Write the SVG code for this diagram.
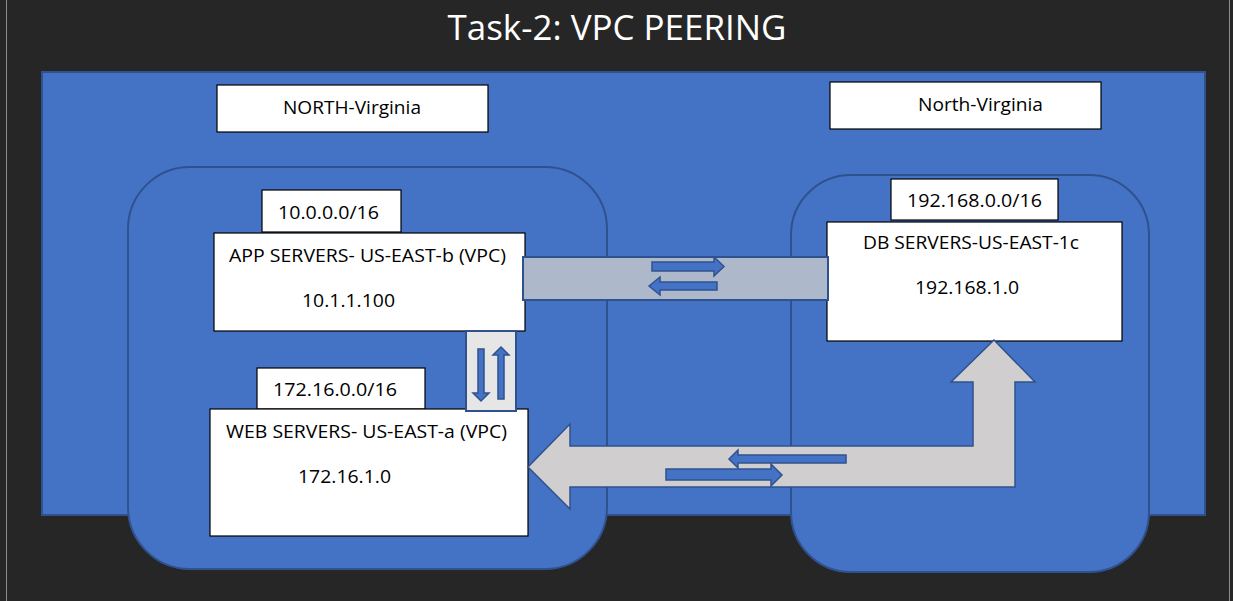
<svg xmlns="http://www.w3.org/2000/svg" width="1233" height="601" viewBox="0 0 1233 601">
<style>
.bx{fill:#fff;stroke:#000;stroke-width:1.2}
.t{font-family:"Open Sans","Noto Sans",sans-serif;font-size:18.5px;fill:#000}
.vpc{fill:#4472C4;stroke:#2F528F;stroke-width:2}
.sa{fill:#4472C4;stroke:#2F528F;stroke-width:1.5;stroke-linejoin:miter}
</style>
<rect x="0" y="0" width="1233" height="601" fill="#262626"/>
<line x1="6.5" y1="0" x2="6.5" y2="601" stroke="#8c8c8c" stroke-width="1"/>
<line x1="1229.5" y1="0" x2="1229.5" y2="601" stroke="#8c8c8c" stroke-width="1"/>
<text x="617" y="40" text-anchor="middle" font-family="'Open Sans','Noto Sans',sans-serif" font-size="35" fill="#fff" textLength="339" lengthAdjust="spacingAndGlyphs">Task-2: VPC PEERING</text>
<g id="region">
<rect x="42" y="72" width="1163" height="443" fill="#4472C4" stroke="#2F528F" stroke-width="2"/>
</g>
<g id="vpc-left"><rect class="vpc" x="128" y="167" width="479" height="402" rx="62" ry="62"/></g>
<g id="vpc-right"><rect class="vpc" x="791" y="175" width="358" height="397" rx="60" ry="60"/></g>
<g id="label-left">
<rect class="bx" x="217" y="85" width="271" height="47"/>
<text class="t" x="283" y="114" textLength="138" lengthAdjust="spacingAndGlyphs">NORTH-Virginia</text>
</g>
<g id="label-right">
<rect class="bx" x="830" y="82" width="271" height="47"/>
<text class="t" x="918" y="111" textLength="125" lengthAdjust="spacingAndGlyphs">North-Virginia</text>
</g>
<g id="cidr-app">
<rect class="bx" x="262" y="190" width="139" height="42"/>
<text class="t" x="278" y="219" textLength="101" lengthAdjust="spacingAndGlyphs">10.0.0.0/16</text>
</g>
<g id="app-servers">
<rect class="bx" x="214" y="233" width="311" height="98"/>
<text class="t" x="229" y="262" textLength="277" lengthAdjust="spacingAndGlyphs">APP SERVERS- US-EAST-b (VPC)</text>
<text class="t" x="302" y="307" textLength="93" lengthAdjust="spacingAndGlyphs">10.1.1.100</text>
</g>
<g id="cidr-db">
<rect class="bx" x="891" y="179" width="167" height="41"/>
<text class="t" x="907" y="207" textLength="135" lengthAdjust="spacingAndGlyphs">192.168.0.0/16</text>
</g>
<g id="db-servers">
<rect class="bx" x="827" y="222" width="295" height="119"/>
<text class="t" x="863" y="249" textLength="216" lengthAdjust="spacingAndGlyphs">DB SERVERS-US-EAST-1c</text>
<text class="t" x="915" y="294" textLength="104" lengthAdjust="spacingAndGlyphs">192.168.1.0</text>
</g>
<g id="cidr-web">
<rect class="bx" x="257" y="368" width="168" height="41"/>
<text class="t" x="273" y="396" textLength="124" lengthAdjust="spacingAndGlyphs">172.16.0.0/16</text>
</g>
<g id="web-servers">
<rect class="bx" x="210" y="409" width="318" height="127"/>
<text class="t" x="226" y="438" textLength="281" lengthAdjust="spacingAndGlyphs">WEB SERVERS- US-EAST-a (VPC)</text>
<text class="t" x="298" y="483" textLength="93" lengthAdjust="spacingAndGlyphs">172.16.1.0</text>
</g>
<g id="connectors">
<rect x="523" y="257" width="305" height="43" fill="#ADB9CA" stroke="#2F528F" stroke-width="2"/>
<path class="sa" d="M652,262 H714 V257 L724,266.5 L714,276 V271 H652 Z"/>
<path class="sa" d="M649,286 L660,277 V282 H717 V290 H660 V295 Z"/>
<rect x="466" y="331" width="50" height="80" fill="#E7E6E6" stroke="#2F528F" stroke-width="2"/>
<path class="sa" d="M478,349 H484 V393 H489 L481,401 L473,393 H478 Z"/>
<path class="sa" d="M501,347 L509,355 H504 V399 H498 V355 H493 Z"/>
<path d="M528,467 L570,424 L570,446 L973,446 L973,382 L951,382 L994,340 L1035,382 L1015,382 L1015,487 L570,487 L570,509 Z" fill="#D0CECE" stroke="#2F528F" stroke-width="1.5"/>
<path class="sa" d="M729,459 L738,450 V455 H846 V463 H738 V468 Z"/>
<path class="sa" d="M666,469 H771 V464 L782,475 L771,486 V480 H666 Z"/>
</g>
</svg>
